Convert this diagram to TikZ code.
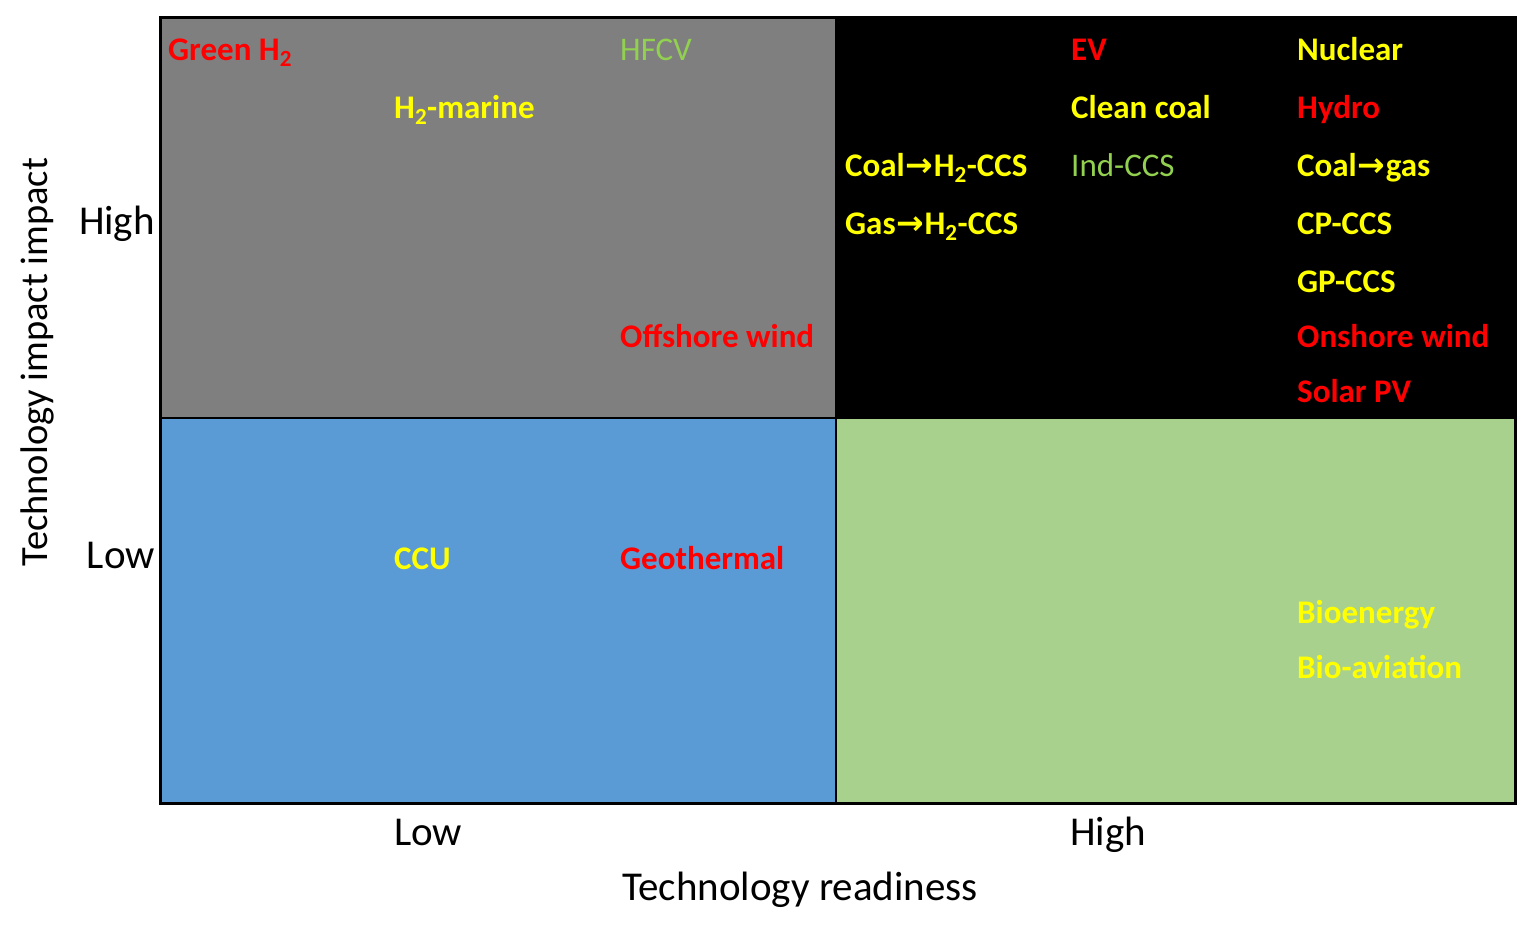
\documentclass[tikz,border=0pt]{standalone}
\usepackage{fontspec}
\setmainfont{Carlito}
\newfontfamily\arrowfont{DejaVu Sans}
\definecolor{qgray}{HTML}{7F7F7F}
\definecolor{qblue}{HTML}{5B9BD5}
\definecolor{qgreen}{HTML}{A9D18E}
\definecolor{lyellow}{HTML}{FFFF00}
\definecolor{lred}{HTML}{FF0000}
\definecolor{lgreen}{HTML}{92D050}
\newcommand{\arr}{{\arrowfont\bfseries\kern0.02em→\kern0.02em}}
\newcommand{\Htwo}{H\textsubscript{2}}
\tikzset{
  lbl/.style={anchor=base west, inner sep=0pt, font=\fontsize{33}{36}\selectfont},
  ylbl/.style={lbl, text=lyellow, font=\fontsize{33}{36}\selectfont\bfseries},
  rlbl/.style={lbl, text=lred, font=\fontsize{33}{36}\selectfont\bfseries},
  glbl/.style={lbl, text=lgreen},
  axlbl/.style={inner sep=0pt, font=\fontsize{41}{44}\selectfont, text=black}
}
\begin{document}
\begin{tikzpicture}[x=1pt,y=-1pt]
\useasboundingbox (0,0) rectangle (1534,929);
\fill[white] (0,0) rectangle (1534,929);
% quadrants
\fill[qgray] (160,17) rectangle (836,418);
\fill[black] (836,17) rectangle (1515,418);
\fill[qblue] (160,418) rectangle (836,803);
\fill[qgreen] (836,418) rectangle (1515,803);
\draw[line width=2pt] (160,418) -- (1515,418);
\draw[line width=2pt] (836,17) -- (836,803);
\draw[line width=3pt] (160,17) rectangle (1515,803);
% top-left
\node[rlbl] (greenh2) at (168,60) {Green \Htwo};
\node[glbl] (hfcv) at (620,60) {HFCV};
\node[ylbl] (h2marine) at (394,118) {\Htwo-marine};
\node[rlbl] (offshore) at (620,347) {Offshore wind};
% top-right
\node[rlbl] (ev) at (1071,60) {EV};
\node[ylbl] (cleancoal) at (1071,118) {Clean coal};
\node[glbl] (indccs) at (1071,176) {Ind-CCS};
\node[ylbl] (coalh2) at (845,176) {Coal\arr\Htwo-CCS};
\node[ylbl] (gash2) at (845,234) {Gas\arr\Htwo-CCS};
\node[ylbl] (nuclear) at (1297,60) {Nuclear};
\node[rlbl] (hydro) at (1297,118) {Hydro};
\node[ylbl] (coalgas) at (1297,176) {Coal\arr gas};
\node[ylbl] (cpccs) at (1297,234) {CP-CCS};
\node[ylbl] (gpccs) at (1297,292) {GP-CCS};
\node[rlbl] (onshore) at (1297,347) {Onshore wind};
\node[rlbl] (solar) at (1297,402) {Solar PV};
% bottom-left
\node[ylbl] (ccu) at (394,569) {CCU};
\node[rlbl] (geo) at (620,569) {Geothermal};
% bottom-right
\node[ylbl] (bioen) at (1297,623) {Bioenergy};
\node[ylbl] (bioav) at (1297,678) {Bio-aviation};
% axes
\node[axlbl, anchor=base east] (yhigh) at (155,234) {High};
\node[axlbl, anchor=base east] (ylow) at (155,568) {Low};
\node[axlbl, anchor=base, rotate=90, font=\fontsize{38.5}{42}\selectfont] (ytitle) at (47,362) {Technology impact impact};
\node[axlbl, anchor=base] (xlow) at (428,845) {Low};
\node[axlbl, anchor=base] (xhigh) at (1108,845) {High};
\node[axlbl, anchor=base] (xtitle) at (800,900) {Technology readiness};
\end{tikzpicture}
\end{document}
